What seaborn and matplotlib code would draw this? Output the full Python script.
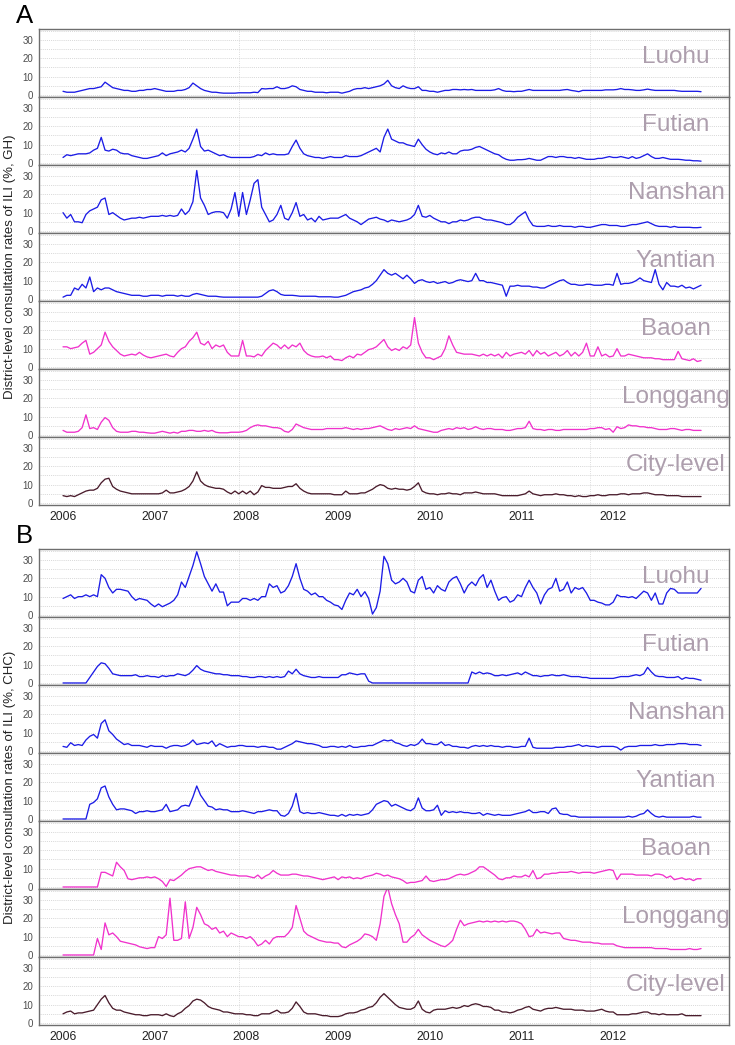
import numpy as np
import pandas as pd
import seaborn as sns
import matplotlib.pyplot as plt
from matplotlib.ticker import MultipleLocator, FixedLocator

# semi-monthly readings (24 per year), 2006-2012
districts = ['Luohu', 'Futian', 'Nanshan', 'Yantian', 'Baoan', 'Longgang', 'City-level']
years = [2006, 2007, 2008, 2009, 2010, 2011, 2012]
steps_per_year = 24

# ---- panel A : general hospitals (GH) ----
gh_luohu = [2,1.5,1.5,1.5,2,2.5,3,3.5,3.5,4,4.5,7,5.5,4,3.5,3,2.5,2.5,2,2,2.5,2.5,3,3,
            3.5,3,2.5,2,2,2,2.5,2.5,3,4,6.5,5,3.5,2.5,2,1.5,1.5,1.2,1,1,1,1,1.2,1.2,
            1.2,1.2,1.5,1.3,3.5,3.3,3.5,3.5,4.5,3.5,3.5,4,5,4.5,3,2.5,2,2,1.5,1.5,1.5,1.2,1.5,1.5,
            1.5,1,1.5,2,3,3.5,3.5,4,3.5,4,4.5,5,6,8,5,4,3.5,5,4,3.5,3.5,4.5,2.5,2.5,
            2,2,1.5,2,2.5,2.5,3,3,2.8,3,2.8,3,2.5,2.5,2.5,2.5,2.5,2.8,3.5,2.5,2,2,1.8,2,
            2,2.5,3,2.5,2.5,2.5,2.5,2.5,2.5,2.5,2.5,2.8,3,2.5,2.2,1.8,2.5,2.5,2.5,2.5,2.5,2.5,2.8,2.8,
            2.8,3,3.5,3,3,2.8,2.5,2.5,2.8,3.2,2.8,2.5,2.5,2.5,2.5,2.5,2.5,2.2,2,2,2,2,2,1.8]
gh_futian = [3,4.5,4,4.5,5,5,5,5.5,7,8,14,7,6.5,7.5,7,5.5,5,5,4,3.5,3,2.5,2.5,3,
             3.5,4,5.5,4,5,5.5,6,7,6,8,13,18.5,9,6.5,7,6,5,4,4.5,3.5,3,3,3,3,
             3,3,3.5,4.5,4,5.5,4.5,5,4.5,4.5,4.5,5,9,12.5,8,5,4,3.5,3,3,2.5,3,3.5,3,
             3,3,4,3.5,3.5,3.5,4,5,6,7,8,6,14,18.5,13,12,11,11,10,9.5,9,13,10,7.5,
             6,5,4.5,5.5,5,6,5,5,6.5,7,7,7.5,8.5,9,8,7,6,5,4.5,3,2,1.5,1.5,1.8,
             1.8,2,2.5,2,1.5,1.5,2.5,3.5,3.5,3,3.5,3.5,3,3,2.5,3,2.5,2,2,2,2.5,2.5,3,3.5,
             3,3,3.5,3,2.5,3.5,2.5,3,4,5,3.5,2.5,2.5,3,2.5,2,2,2,1.8,1.5,1.5,1.2,1.2,1]
gh_nanshan = [10,7,9,5,5,4.5,9,11,12,13,17,18,9,10,8.5,7,6,6.5,7,7,7.5,7,7.5,8,
              8,8,8.5,8,8.5,8,8.5,12,9,11,16,33,18,14,9,10,10.5,10.5,10,7,12,21,8,21,
              9,17,26,28,13,9,5,6,9,14,7,6,10,15.5,8,9,6,7,5,8,6,6.5,7,7,
              7,8,9,7,6,5,3.5,5,6.5,7,7.5,6.5,6,5,6,5.5,5,5.5,6,7,9,14,8,7.5,
              8.5,7,6,5,5,4,5,5,6,5.5,6,7,7.5,7.5,6.5,6,6,5.5,5,4.5,3.5,3.5,5,7.5,
              9,10.5,6,3,2.5,2.5,2.5,3,2.5,2.5,3,2.5,2.5,2.5,2,2.5,2.5,2,2,2.5,3,3.5,3.5,3,
              3,3,2.5,2.5,3,3.5,3.5,4,4.5,5,4,3,2.5,2.5,2.5,2,2.5,2,2,2,2,1.8,1.8,2]
gh_yantian = [1,2,2,6,5,8,6,12,4,6,5,6,6,5,4,3.5,3,2.5,2,2,2,1.5,1.5,2,
              2,2,1.5,2,2,2,1.5,2,1.5,1.5,2.5,3,2.5,2,1.5,1.5,1.5,1.2,1,1,1,1,1,1,
              1,1,1,1,1.5,3,4.5,5,4,2.5,2,2,2,1.8,1.5,1.5,1.5,1.5,1.5,1.2,1.2,1.2,1.2,1,
              1,1.5,2,3,4,4.5,5,6,6.5,8,10,13,16,14,13,14,12.5,11,13,11,8.5,10,10.5,9.5,
              9,9.5,8.5,9,9.5,8.5,9,10,10.5,10,9.5,10,14,10,10,9,9,8.5,8,7.5,1.5,7,7,7.5,
              7,7,7,6.5,6.5,6,6,7,8,9,10,10.5,9,8,8,7.5,7.5,8,8,7.5,7.5,7.5,8,8,
              7.5,14,8,8.5,8.5,9,10,11.5,10,9.5,9,16,8,5,9,7,7,6.5,7.5,6,6.5,5.5,6.5,7.5]
gh_baoan = [11,11,10,10.5,11,13,14.5,7,8,10,12,19,14,11,9,7,6,6.5,7,6.5,8,6.5,5.5,5,
            5.5,6,6.5,7,6,5.5,8,10,11,14,16,19,13,12,14,10,12,11,12,8,6,6,6,14.5,
            6,6,5.5,7,6,9,11,13,12,10,12,10,12,11,13,9,7,6,5.5,5.5,6,5,6,4,
            4,3.5,5,6,5,7,6.5,8,9.5,10,11,13,15,11,9,10,9,11,10,12,27,13,8,5,
            5,4,5,6,10,17,12,8,7.5,7,7,7,6.5,6,7,6,7,6,7,5,8,6,7,7.5,
            8,7,9,6,9,7,8,6,7,8,6,7,9,6,8,6,8,13,6,6,11,6,7,5.5,
            6,10,6,6,7,6.5,6,5.5,5,5,5,4.5,4.5,4,4,4,4,8.5,4.5,4,3.5,4.5,3,3.5]
gh_longgang = [2.5,1.5,1.5,1.5,2,4,11,3.5,4,3,7,9.5,8,4,2,1.5,1.5,1.5,2,2,1.5,1.5,1.2,1,
               1,1.5,2,1.5,1,1.5,1,2,2,2.5,2.5,2,2,2.5,2,2.5,1.5,1.2,1.2,1.2,1.5,1.5,1.5,1.8,
               2.5,4,5,5.5,5,5,4.5,4,4,3.5,2,1.5,3,6,5,4,3.5,3,3,3,3,3.5,3.5,3.5,
               3.5,3.5,4,3.5,3,3.5,3,3.5,3.5,4,4.5,5,4,3,2.5,3.5,3,3.5,4,3.5,5,3.5,3,2.5,
               2,1.5,1.5,2.5,3,3.5,3,4,3.5,4,3,3.5,4.5,3.5,3,3.5,3.5,3,3,3,2.5,2.5,3,3.5,
               3.5,4,7.5,3.5,3,3,2.5,3,3,2.5,2.5,3,3,3,3,3,3,3,3.5,3.5,4,4,3,3.5,
               1.5,4.5,3.5,4,5.5,5,5,4.5,4.5,4,4,3.5,3,3,3,3.5,3.5,3,2.5,3,3,2.5,2.5,2.5]
gh_city = [4,3.5,4,3.5,4.5,5.5,6.5,7,7,8,11,13,13.5,9,7.5,6.5,6,5.5,5,5,5,5,5,5,
           5,5,5.5,7,5.5,5.5,6,6.5,7.5,9,12,17,12,10,9,8.5,8,8,7.5,6,5,6.5,5,6.5,
           5,6.5,4.5,6,9.5,8.5,8.5,8,8,8,8.5,9,9,10.5,8,6.5,5.5,5,5,5,5,5,5,4.5,
           4.5,4.5,6.5,5,5,5,5.5,5.5,6.5,7.5,9,10,9.5,8,7.5,8,7.5,7.5,7,7.5,9,11,6.5,5.5,
           5,5,4.5,5,5,5.5,5,5,4.5,5.5,5.5,5.5,6,5.5,5,5,5,5,4.5,4,4,4,4,4,
           4.5,5,6.5,5,4.5,4,4.5,4.5,4.5,5,4.5,4.5,4,4,3.5,4,3.5,3.5,4,4,4.5,4,4,4.5,
           4.5,4.5,5,5,4.5,5,5,5,5.5,5.5,5,4.5,4.5,4.5,4,4,4,4,3.5,3.5,3.5,3.5,3.5,3.5]

# ---- panel B : community health centres (CHC) ----
chc_luohu = [9,10,11,9,10,10,11,10,11,10,22,20,15,12,14,14,13.5,13,10,8,9,8.5,8,6,
             4.5,6,4.5,5.5,6.5,8,11,18,15,21,27,34.5,28,21,17,13,17,12.5,12.5,5,7,7,7,9,
             9,8,9,8,10,10,17,15,16,12,13,16,21,28,20,14,13,11,12,10,10,8,7,5.5,
             5,3,8,12,11,14,10,12.7,9,0.5,4,13,32,28,19,17,18,20,18,13,12,19,21,14,
             15,12,16,14,13,18,20,21,17,12,16,18,16,20,22,15,19,13,8,9.5,10,7,8,11,
             10,15,19,15,12,6,11,14,15,20,13,14,18,12,15,14,15,12,8,8,7,6.5,5.5,5.5,
             7,11,10,10,9.5,10,9,11,13,12,8,12,6,6,12,14.5,14,12,12,12,12,12,12,14.5]
chc_futian = [0,0,0,0,0,0,0,3,6,9,11,10.5,8,5,4.5,4,4,4,4,4.5,3.5,3.5,4,3.5,
              3.5,3,4,3.5,4,4,5,4.5,4,5,7,9.5,7.5,6.5,6,5.5,5,5,4.5,4.5,4,4,4,3.5,
              3.5,3,3,3.5,3.5,3,3.5,3,3.5,3,3.5,6.5,5,7.5,5,4,3.5,3,3,3.5,3,3,3,3,
              3,4.5,4.5,5.5,5,4.5,5,5,1,0,0,0,0,0,0,0,0,0,0,0,0,0,0,0,
              0,0,0,0,0,0,0,0,0,0,0,6,5,6,5,5.5,5,4,4,4.5,4,4.5,5,5.5,
              4.5,6,5,4,4,3.5,4,4,4.5,4,4,4.5,4,3.5,3.5,3.5,3,3,2.5,2.5,2.5,2.5,2.5,2.5,
              2.5,3,3.5,3.5,3.5,4,4.5,4,5,8.5,6,4,3.5,3.5,3,3,3,3.5,2,3,2.5,2.5,2,1.5]
chc_nanshan = [2.5,2,4.5,3,3.5,3,6,8,9,7,15,17,11,9,6.5,5,3.5,4,3,3,3,2.5,2,3,
               2.5,2.5,2.5,1.5,2.5,3,3,2.5,3,4,6,3.5,4,4.5,4,5.5,2.5,4,3,2,2.5,2.5,3,3,
               2.5,2.5,2.5,2,2.5,2.5,2,2,1,1,2,3,4,5.5,5,4.5,4,4,3.5,3,2,2,2.5,2.5,
               2,2.5,2,3,2,2,2.5,2.5,3,3,4,5,6,5.5,6,4.5,4,3,2.5,3.5,3,4,6.5,4,
               4,3.5,3.5,5,3,3.5,2.5,2.5,2,2,1.5,2.5,3,2.5,3,2.5,3,2.5,2.5,2,2.5,2.5,2,2,
               2.5,2.5,7,2,1.5,1.5,1.5,1.5,1.5,2,2,2,2.5,2.5,3,3.5,2.5,3,2.5,2.5,2,2.5,2.5,2.5,
               2.5,2,0.5,2,2.5,2.5,2.5,3,3,3,3,3.5,3,3,3.5,3.5,3.5,4,4,4,3.5,3.5,3.5,3]
chc_yantian = [0,0,0,0,0,0,0,8,9,11,17,18,12,8,5,5.5,5.5,5,4.5,3,4,4,4.5,4,
               4,4.5,5,8,4,4.5,5,7,7.5,7,12,18,13,10,7,6.5,5,5.5,5,5,4,4,4,4.5,
               4,3.5,3,4,4,4.5,5,4.5,4.5,2,1.5,3,7,14,4,3,3.5,3,3,3.5,3,2.5,2,2,
               1.5,2.5,1.5,2.5,2,2.5,2,2.5,3,5,8,9,10,9.5,7,8,7,6,5,4.5,6,11.5,6,4.5,
               4.5,5,7.5,2,4.5,3.5,4,3.5,4,3.5,3.5,3,3,3.5,2,3,2.5,2,2.5,2,2,2,2.5,3,
               3.5,4,5,3.5,3.5,4,4,3,5.5,6,3,2.5,2.5,1.5,1.5,1,1,1,1,1,1,1,1,1,
               1,1,1,1,1.5,1,1.5,2.5,3,5,3,1.5,1,1.5,1,1,1,1,1,1,1,1.5,1,1]
chc_baoan = [0,0,0,0,0,0,0,0,0,0,8,8,7,6,13.5,11,9,4.5,4,4.5,5,5,5.5,5,
             5.5,4.5,3,0.3,4,3.5,5,6.5,8.5,10,10.5,11,11,10,9,9.5,8.5,8,7.5,7,6.5,6.5,6,6,
             6,5.5,5,6.5,4.5,6,7,9,7.5,6.5,6.5,6.5,7,7,6.5,6,6,5.5,5,4.5,4,4.5,5,5.5,
             4,5.5,5,5.5,4.5,5,4.5,5.5,6,6.5,7.5,7,6,6.5,5.5,5,4.5,3.5,2,2.5,2.5,3,3.5,6,
             3.5,3,3.5,4,4,4.5,5.5,6.5,7,6.5,7,8,9,11,11,9.5,8,6.5,4.5,4,5,5,6,5.5,
             5.5,6.5,5.5,9,4.5,5,7,7,7.5,7.5,8,8,8,8.5,8,7.5,8,8,8,7.5,8,8.5,9,9.5,
             9,4,7,7,7,7,6.5,6.5,6.5,6.5,6,7,7,6.5,5,6,4,4.5,5,4,4.5,3.5,4.5,4.5]
chc_longgang = [0,0,0,0,0,0,0,0,0,9,3,17.5,11,12,10,7.5,7,6.5,6,5.5,4.5,4,3.5,4,
                4,10,9,11,31,8,8,9,29,9,15,26,22,17,16,14,15,12,13,10,12,11,10,10,
                9,10,8,5,6,8,6,9,10,10,10,12,15,27,20,13,11,10,9,8,7.5,7,7,6.5,
                6.5,4.5,4,5.5,6.5,7.5,9,11.5,11,10,8,17,32,37,28,22,17,7,7,9.5,11,14,11,9.5,
                8,7,6,5,4.5,6,8,14,19,16,17,17.5,18,18.5,18,18.5,18,18.5,18,18.5,18,18.5,18.5,18,
                17,14,10,10.5,14,12,12.5,12,11.5,12,12,9,8.5,8,8,7.5,7,7,7,6.5,6.5,6,6,6,
                6,5,4.5,4,4,4,4,4,4,4,4,3.5,3.5,3.5,3.5,3,3,3,3,3,3.5,3,3,3.5]
chc_city = [5,6,6.5,5,5.5,5.5,6,6.5,7,10,13,15,11,8,7,7,6,5.5,5,4.5,4.5,4,4,4.5,
            4.5,4.5,4,5,4,3.5,5,6,8,9.5,12,13,12.5,11,9,8,7.5,7,6,6,5.5,5,5,5,
            4.5,4.5,4,4,5,5,5,6,7,5.5,5.5,6,8,11.5,9,6,5,5,5,4.5,4,4,3.5,3.5,
            3.5,4,5,5.5,5.5,6,7,7.5,8.5,9,11,14,16,14,12,10,8.5,8,7.5,7.5,8.5,12,7.5,6,
            5.5,7,7.5,7.5,7.5,8,8.5,8,8.5,9.5,9,10,10.5,10,9,9,8.5,7,7,6,6,5.5,6,7,
            7.5,8.5,9,7.5,7,6.5,7.5,8,8,8.5,8,7.5,7.5,7.5,7,7,7,6.5,6.5,6.5,7,7.5,6.5,6,
            6,4.5,4.5,4.5,4.5,5,5,5.5,6,6,5,5,4.5,5,4.5,4.5,4.5,4.5,5,4,4,4,4,4]

gh_series = [gh_luohu, gh_futian, gh_nanshan, gh_yantian, gh_baoan, gh_longgang, gh_city]
chc_series = [chc_luohu, chc_futian, chc_nanshan, chc_yantian, chc_baoan, chc_longgang, chc_city]

frames = []
for panel, series in (('GH', gh_series), ('CHC', chc_series)):
    for name, vals in zip(districts, series):
        t = years[0] + np.arange(len(vals)) / steps_per_year
        frames.append(pd.DataFrame({'panel': panel, 'district': name, 'time': t, 'rate': vals}))
df = pd.concat(frames, ignore_index=True)

line_colors = {'Luohu': '#1c1ce6', 'Futian': '#1c1ce6', 'Nanshan': '#1c1ce6',
               'Yantian': '#1c1ce6', 'Baoan': '#f032cc', 'Longgang': '#f032cc',
               'City-level': '#4a1c2c'}

sns.set_style('white')
plt.rcParams['font.family'] = ['Liberation Sans', 'DejaVu Sans']

W, H = 735, 1045
fig = plt.figure(figsize=(W / 100, H / 100), dpi=100)

left_px, width_px, facet_px = 39, 690, 68
panel_top = {'GH': 29, 'CHC': 549}
panel_letter = {'GH': 'A', 'CHC': 'B'}
ylabels = {'GH': 'District-level consultation rates of ILI (%, GH)',
           'CHC': 'District-level consultation rates of ILI (%, CHC)'}
# vertical grid follows the week index (every 100 weeks)
week_grid = [years[0] + w * 7 / 365.25 for w in (0, 100, 200, 300)]

for panel in ('GH', 'CHC'):
    top = panel_top[panel]
    for i, name in enumerate(districts):
        sub = df[(df.panel == panel) & (df.district == name)]
        ax = fig.add_axes([left_px / W, 1 - (top + facet_px * (i + 1)) / H,
                           width_px / W, facet_px / H])
        sns.lineplot(data=sub, x='time', y='rate', color=line_colors[name],
                     linewidth=0.95, ax=ax, legend=False)
        ax.set_xlim(2005.738, 2013.263)
        ax.set_ylim(-1.1, 36.0)
        ax.set_xlabel('')
        ax.set_ylabel('')
        ax.set_yticks([0, 10, 20, 30])
        ax.yaxis.set_minor_locator(MultipleLocator(5))
        ax.set_xticks(years)
        ax.xaxis.set_minor_locator(FixedLocator(week_grid))
        ax.grid(which='both', axis='y', color='#cdcdcd', lw=0.6, ls=(0, (1, 1.3)))
        ax.grid(which='minor', axis='x', color='#dcdcdc', lw=0.7, ls=(0, (1, 1.3)))
        ax.set_axisbelow(True)
        ax.tick_params(axis='y', which='major', labelsize=7, colors='#4d4d4d',
                       length=2.5, width=0.6, pad=1.5)
        ax.tick_params(which='minor', length=0)
        ax.tick_params(axis='x', which='major', labelsize=8.8, colors='#222222',
                       length=2.5 if i == 6 else 0, width=0.6, pad=2,
                       labelbottom=(i == 6))
        for sp in ax.spines.values():
            sp.set_color('#6e6e6e')
            sp.set_linewidth(1.0)
        ax.text(2012.685, 17.5, name, ha='center', va='baseline',
                fontsize=17.5, color='#ad9ead')

    mid = 1 - (top + facet_px * 3.5) / H
    fig.text(10 / W, mid, ylabels[panel], rotation=90, ha='center', va='center',
             fontsize=9.5, color='#222222')
    fig.text(16 / W, 1 - (top - 13) / H, panel_letter[panel], ha='left', va='center',
             fontsize=18.5, color='black')

fig.savefig('out.png', dpi=100)
